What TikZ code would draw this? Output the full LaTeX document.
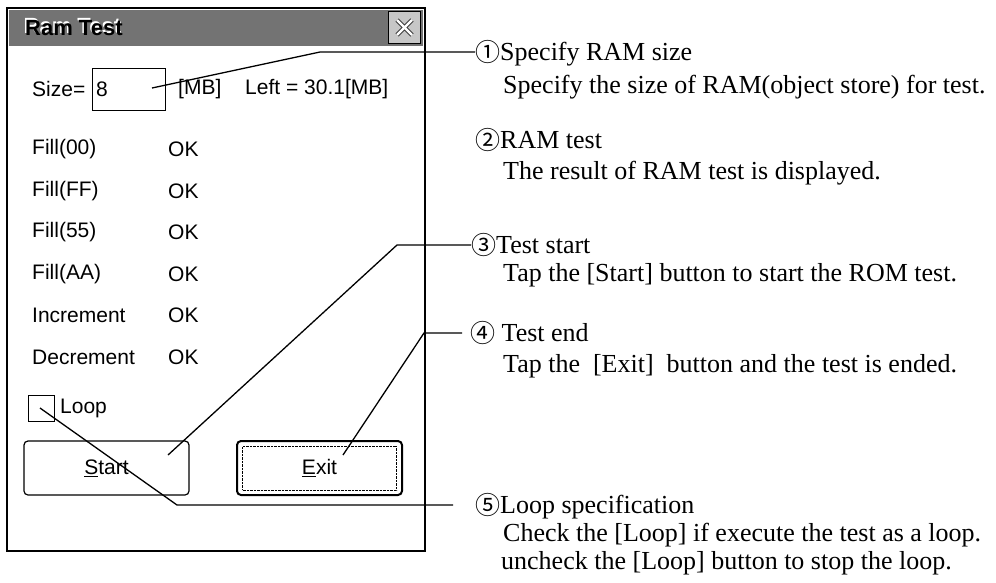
\documentclass[tikz,border=0pt]{standalone}
\usepackage{fontspec}
\setmainfont{Liberation Serif}
\newfontfamily\uifont{Liberation Sans}
\newfontfamily\circfont{Noto Sans CJK JP}
\usepackage{tikz}
\usetikzlibrary{calc}
\usetikzlibrary{positioning}
\tikzstyle{head} = [anchor=west, inner sep=0pt, text height=20pt, text depth=4pt, font=\fontsize{26}{30}\selectfont]
\tikzstyle{ui} = [anchor=west, inner sep=0pt, font=\uifont\fontsize{21}{24}\selectfont]
\tikzstyle{btn} = [draw, rounded corners=4pt, line width=1.2pt, minimum width=165pt, minimum height=54pt, inner sep=0pt, font=\uifont\fontsize{21}{24}\selectfont]
\tikzstyle{leader} = [line width=1.3pt]
\tikzstyle{point} = [coordinate]
\newcommand{\cnum}[1]{{\circfont\fontsize{25}{30}\selectfont\raisebox{-1pt}{#1}}}

\begin{document}
\begin{tikzpicture}[auto, x=1pt, y=-1pt]
    \useasboundingbox (0,0) rectangle (996,582);

    \draw [line width=2pt, fill=white] (7,8) rectangle (425,551);
    \fill [black!55] (9,10) rectangle (423,46);
    \node [ui, white, font=\uifont\bfseries\fontsize{22}{24}\selectfont, name=titleglow] at (23.5,26.5) {Ram Test};
    \node [ui, font=\uifont\bfseries\fontsize{22}{24}\selectfont, name=title] at (25,28) {Ram Test};
    \node [draw, thick, fill=black!22, minimum size=32pt, name=close] at (404.5,27.5) {};
    \draw [line width=4.5pt, black!75] (397,20) -- (412,35) (412,20) -- (397,35);
    \draw [line width=2.2pt, white] (397,20) -- (412,35) (412,20) -- (397,35);

    \node [ui, name=size] at (32,89) {Size=};
    \node [draw, thick, minimum width=73pt, minimum height=42pt, name=sizebox] at (128.5,89) {};
    \node [ui, name=sizeval] at (96,89) {8};
    \node [ui, name=mb] at (178,89) {[MB]};
    \node [ui, name=left] at (245,89) {Left = 30.1[MB]};

    \foreach \lbl [count=\i] in {Fill(00),Fill(FF),Fill(55),Fill(AA),Increment,Decrement} {
        \node [ui, name=row\i] at (32,108+41.5*\i) {\lbl};
        \node [ui, name=ok\i] at (168,108+41.5*\i) {OK};
    }

    \node [draw, thick, minimum size=26pt, name=loopbox] at (41,408) {};
    \node [ui, name=loop] at (60,408) {Loop};
    \node [btn, name=start] at (106.5,468) {\underline{S}tart};
    \node [btn, line width=2pt, name=exit] at (319.5,468) {\underline{E}xit};
    \node [draw, densely dotted, minimum width=154pt, minimum height=44pt, name=focus] at (exit.center) {};

    \node [head, name=h1] at (475,52) {\cnum{①}Specify RAM size};
    \node [head, name=d1] at (503,85) {Specify the size of RAM(object store) for test.};
    \node [head, name=h2] at (475,140) {\cnum{②}RAM test};
    \node [head, name=d2] at (503,171) {The result of RAM test is displayed.};
    \node [head, name=h3] at (471,245) {\cnum{③}Test start};
    \node [head, name=d3] at (503,273) {Tap the [Start] button to start the ROM test.};
    \node [head, name=h4] at (470,333) {\cnum{④} Test end};
    \node [head, name=d4] at (503,364) {Tap the\hspace{0.5em}[Exit]\hspace{0.5em}button and the test is ended.};
    \node [head, name=h5] at (475,505) {\cnum{⑤}Loop specification};
    \node [head, name=d5] at (503,533) {Check the [Loop] if execute the test as a loop.};
    \node [head, name=d6] at (501,561) {uncheck the [Loop] button to stop the loop.};

    \node [point, name=s1] at (152,88) {};
    \node [point, name=e1] at (320,0) {};
    \node [point, name=s3] at (168,455) {};
    \node [point, name=e3] at (397,0) {};
    \node [point, name=s4] at (343,455) {};
    \node [point, name=e4] at (424,0) {};
    \node [point, name=s5] at (40,408) {};
    \node [point, name=e5] at (177,0) {};

    \draw [leader] (s1) -- (e1 |- h1.west) -- (h1.west);
    \draw [leader] (s3) -- (e3 |- h3.west) -- (h3.west);
    \draw [leader, shorten >=8pt] (s4) -- (e4 |- h4.west) -- (h4.west);
    \draw [leader, shorten >=22pt] (s5) -- (e5 |- h5.west) -- (h5.west);
\end{tikzpicture}
\end{document}
